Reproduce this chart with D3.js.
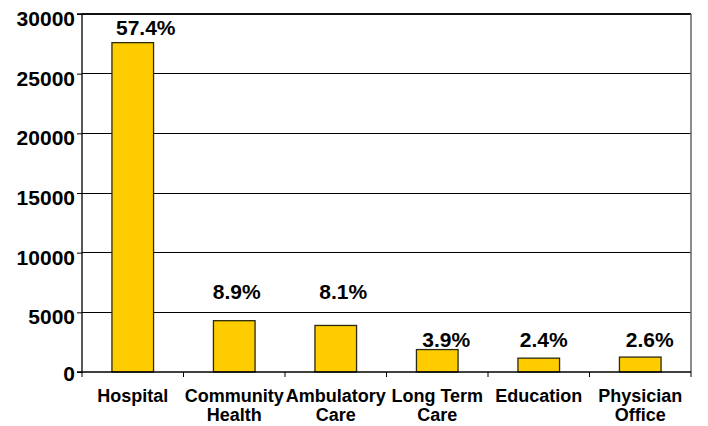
<!DOCTYPE html>
<html>
<head>
<meta charset="utf-8">
<script src="https://cdn.jsdelivr.net/npm/d3@7"></script>
<style>
  html, body { margin: 0; padding: 0; background: #fff; }
  svg { display: block; font-family: "Liberation Sans", Arial, Helvetica, sans-serif; }
</style>
</head>
<body>
<script>
// ---- data ----
const categories = ["Hospital", "Community Health", "Ambulatory Care", "Long Term Care", "Education", "Physician Office"];
const categoryLines = [["Hospital"], ["Community", "Health"], ["Ambulatory", "Care"], ["Long Term", "Care"], ["Education"], ["Physician", "Office"]];
const values = [27600, 4300, 3900, 1880, 1160, 1250];
const percentLabels = ["57.4%", "8.9%", "8.1%", "3.9%", "2.4%", "2.6%"];
const yTicks = [0, 5000, 10000, 15000, 20000, 25000, 30000];

// ---- layout (not data) ----
const W = 708, H = 426;
const plotL = 82, plotR = 691, plotT = 14, plotB = 372;
const labelAt = [28240, 6120, 6120, 2095, 2095, 2095]; // label baselines in value units
const labelDx = [13, 2.5, 7.5, 9, 5, 9.5];

const svg = d3.select("body").append("svg").attr("width", W).attr("height", H);
svg.append("rect").attr("width", W).attr("height", H).attr("fill", "#fff");

const x = d3.scaleBand().domain(categories).range([plotL, plotR]).padding(0);
const y = d3.scaleLinear().domain([0, 30000]).range([plotB, plotT]);

// gridlines
svg.append("g").selectAll("line").data(yTicks.filter(d => d > 0)).join("line")
  .attr("x1", plotL).attr("x2", plotR)
  .attr("y1", d => y(d)).attr("y2", d => y(d))
  .attr("stroke", d => d === 30000 ? "#111" : "#000")
  .attr("stroke-width", d => d === 30000 ? 1.5 : 1)
  .attr("shape-rendering", "crispEdges");

// right border
svg.append("line").attr("x1", plotR).attr("x2", plotR).attr("y1", plotT).attr("y2", plotB)
  .attr("stroke", "#666").attr("stroke-width", 1.5);

// bars
const barW = x.bandwidth() * 0.41;
svg.append("g").selectAll("rect").data(values).join("rect")
  .attr("x", (d, i) => x(categories[i]) + x.bandwidth() / 2 - barW / 2)
  .attr("y", d => y(d))
  .attr("width", barW)
  .attr("height", d => y(0) - y(d))
  .attr("fill", "#FFCC00")
  .attr("stroke", "#2a2a10")
  .attr("stroke-width", 1.3);

// y axis
const yAxis = d3.axisLeft(y).tickValues(yTicks).tickSize(5).tickPadding(2).tickFormat(d3.format("d"));
const gy = svg.append("g").attr("transform", `translate(${plotL},0)`).call(yAxis);
gy.select(".domain").attr("stroke", "#000").attr("stroke-width", 1.3).attr("d", `M-5,${plotT}H0V${plotB}H-5`);
gy.selectAll(".tick line").attr("stroke", "#000");
gy.selectAll(".tick text")
  .attr("font-size", 21).attr("font-weight", "bold").attr("fill", "#000")
  .attr("font-family", "Liberation Sans, Arial, sans-serif")
  .attr("dy", d => d === 0 ? "0.42em" : "0.55em");

// x axis
const xAxis = d3.axisBottom(x).tickSize(0).tickFormat("");
const gx = svg.append("g").attr("transform", `translate(0,${plotB})`).call(xAxis);
gx.select(".domain").attr("stroke", "#000").attr("stroke-width", 1.3).attr("d", `M${plotL},0H${plotR}`);
const boundaries = categories.map(c => x(c)).concat([plotR]);
gx.selectAll("line.bt").data(boundaries).join("line").attr("class", "bt")
  .attr("x1", d => d).attr("x2", d => d).attr("y1", 0).attr("y2", 5)
  .attr("stroke", "#000").attr("stroke-width", 1);

// category labels
const cat = svg.append("g").selectAll("text").data(categoryLines).join("text")
  .attr("text-anchor", "middle")
  .attr("font-size", 18).attr("font-weight", "bold").attr("fill", "#000")
  .attr("x", (d, i) => x(categories[i]) + x.bandwidth() / 2)
  .attr("y", 402);
cat.selectAll("tspan").data(d => d).join("tspan")
  .attr("x", function () { return d3.select(this.parentNode).attr("x"); })
  .attr("dy", (d, i) => i === 0 ? 0 : 18.5)
  .text(d => d);

// percent labels
svg.append("g").selectAll("text").data(percentLabels).join("text")
  .attr("text-anchor", "middle")
  .attr("font-size", 21).attr("font-weight", "bold").attr("fill", "#000")
  .attr("x", (d, i) => x(categories[i]) + x.bandwidth() / 2 + labelDx[i])
  .attr("y", (d, i) => y(labelAt[i]))
  .text(d => d);
</script>
</body>
</html>
